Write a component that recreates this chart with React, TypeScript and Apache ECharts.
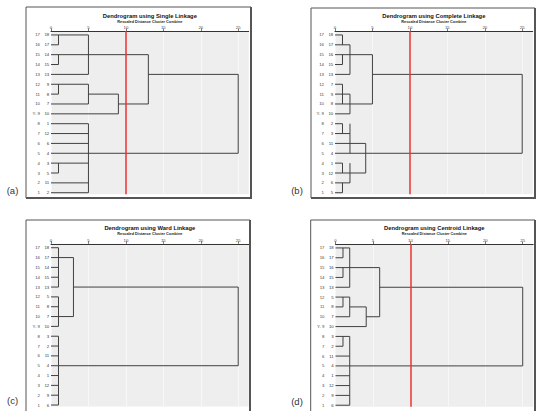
import React, { useEffect, useRef } from 'react';
import * as echarts from 'echarts';

// ---------- data ----------
const rowNumbers = ['17', '16', '15', '14', '13', '12', '11', '10', 'Y- 9', '8', '7', '6', '5', '4', '3', '2', '1'];
const leavesSingle = ['18', '17', '14', '15', '13', '9', '8', '7', '10', '1', '12', '6', '4', '3', '5', '11', '2'];
const leavesComplete = ['18', '17', '16', '15', '13', '7', '9', '8', '10', '2', '3', '11', '4', '1', '12', '6', '5'];
const leavesWard = ['18', '17', '14', '15', '13', '5', '8', '7', '10', '3', '2', '11', '4', '1', '12', '9', '6'];
const leavesCentroid = ['18', '17', '16', '15', '13', '5', '8', '7', '10', '3', '2', '11', '4', '1', '12', '9', '6'];
const xTicks = [0, 5, 10, 15, 20, 25];
const cutDistance = 10;
const titles = [
  'Dendrogram using Single Linkage',
  'Dendrogram using Complete Linkage',
  'Dendrogram using Ward Linkage',
  'Dendrogram using Centroid Linkage',
];
const subtitle = 'Rescaled Distance Cluster Combine';
const panelLetters = ['(a)', '(b)', '(c)', '(d)'];

// segments: [distanceFrom, row, distanceTo, row]
const segSingle = [
  [0, 1, 5, 1], [0, 2, 1, 2], [1, 1, 1, 2], [0, 3, 13, 3], [0, 4, 1, 4], [1, 3, 1, 4],
  [0, 5, 5, 5], [5, 1, 5, 5], [13, 5, 25, 5],
  [0, 6, 5, 6], [0, 7, 1, 7], [1, 6, 1, 7], [0, 8, 5, 8], [5, 6, 5, 8], [5, 7, 9, 7],
  [0, 9, 9, 9], [9, 7, 9, 9], [9, 8, 13, 8], [13, 3, 13, 8],
  [0, 10, 5, 10], [0, 11, 5, 11], [0, 12, 5, 12], [0, 13, 25, 13], [0, 14, 5, 14],
  [0, 15, 1, 15], [1, 14, 1, 15], [0, 16, 5, 16], [0, 17, 5, 17], [5, 10, 5, 17],
  [25, 5, 25, 13],
];
const segComplete = [
  [0, 1, 1, 1], [0, 2, 2, 2], [1, 1, 1, 2], [0, 3, 5, 3], [0, 4, 1, 4], [1, 3, 1, 4],
  [0, 5, 2, 5], [2, 2, 2, 5], [5, 5, 25, 5],
  [0, 6, 1, 6], [0, 7, 2, 7], [0, 8, 5, 8], [1, 6, 1, 8], [0, 9, 2, 9], [2, 7, 2, 9],
  [5, 3, 5, 8],
  [0, 10, 1, 10], [0, 11, 2, 11], [1, 10, 1, 11], [0, 12, 4.1, 12], [0, 13, 25, 13], [2, 10, 2, 13],
  [0, 14, 1, 14], [0, 15, 4.1, 15], [1, 14, 1, 15], [0, 16, 2, 16], [0, 17, 1, 17], [1, 16, 1, 17],
  [2, 14, 2, 16], [4.1, 12, 4.1, 15],
  [25, 5, 25, 13],
];
const segWard = [
  [0, 1, 1, 1], [0, 2, 3, 2], [0, 3, 1, 3], [0, 4, 1, 4], [0, 5, 1, 5], [1, 1, 1, 5],
  [3, 5, 25, 5],
  [0, 6, 1, 6], [0, 7, 1, 7], [0, 8, 3, 8], [0, 9, 1, 9], [1, 6, 1, 9], [3, 2, 3, 8],
  [0, 10, 1, 10], [0, 11, 1, 11], [0, 12, 1, 12], [0, 13, 25, 13], [0, 14, 1, 14],
  [0, 15, 1, 15], [0, 16, 1, 16], [0, 17, 1, 17], [1, 10, 1, 17],
  [25, 5, 25, 13],
];
const segCentroid = [
  [0, 1, 1.9, 1], [0, 2, 1, 2], [1, 1, 1, 2], [0, 3, 5.9, 3], [0, 4, 1, 4], [1, 3, 1, 4],
  [0, 5, 1.9, 5], [1.9, 1, 1.9, 5], [5.9, 5, 25, 5],
  [0, 6, 1.9, 6], [0, 7, 1, 7], [1, 6, 1, 7], [0, 8, 1.9, 8], [1.9, 6, 1.9, 8],
  [1.9, 7, 4.1, 7], [0, 9, 4.1, 9], [4.1, 7, 4.1, 9], [4.1, 8, 5.9, 8], [5.9, 3, 5.9, 8],
  [0, 10, 1.9, 10], [0, 11, 1, 11], [1, 10, 1, 11], [0, 12, 1.9, 12], [0, 13, 25, 13],
  [0, 14, 1.9, 14], [0, 15, 1.9, 15], [0, 16, 1.9, 16], [0, 17, 1.9, 17], [1.9, 10, 1.9, 17],
  [25, 5, 25, 13],
];

// ---------- layout ----------
const FONT = 'Liberation Sans';
const X_MAX = 26.4;
const Y_MIN = 0.6;
const Y_MAX = 17.16;
const panels = [
  { left: 51, top: 31, width: 197.7, height: 163.3, frame: [26, 7, 225, 191], letter: [12.5, 190], titleY: 15.5, cut: true },
  { left: 335, top: 31, width: 197.7, height: 163.3, frame: [311, 8, 224, 190], letter: [297, 190], titleY: 15.5, cut: true },
  { left: 51, top: 243.8, width: 197.7, height: 162.8, frame: [26, 220, 224, 192], letter: [12.5, 400], titleY: 228.2, cut: false },
  { left: 335.5, top: 244, width: 197.7, height: 162.8, frame: [310.7, 220, 224.3, 192], letter: [297, 401], titleY: 228.2, cut: true },
];

export default function App() {
  const ref = useRef<HTMLDivElement>(null);
  useEffect(() => {
    const chart = echarts.init(ref.current!, null, { renderer: 'svg' });
    const segs = [segSingle, segComplete, segWard, segCentroid];
    const leaves = [leavesSingle, leavesComplete, leavesWard, leavesCentroid];
    const rowIdx = rowNumbers.map((_, k) => k + 1);
    const grids: any[] = [];
    const xAxes: any[] = [];
    const yAxes: any[] = [];
    const series: any[] = [];
    const graphics: any[] = [];

    panels.forEach((p, i) => {
      grids.push({
        left: p.left, top: p.top, width: p.width, height: p.height,
        show: true, backgroundColor: '#eeeeee', borderWidth: 0,
      });
      xAxes.push({
        type: 'value', gridIndex: i, position: 'top', min: 0, max: X_MAX, interval: 5,
        axisLine: { show: true, lineStyle: { color: '#333', width: 1 } },
        axisTick: { show: true, length: 2.5, customValues: xTicks, lineStyle: { color: '#555', width: 0.8 } },
        axisLabel: { customValues: xTicks, fontSize: 4.3, margin: 1.2, color: '#444', fontFamily: FONT },
        splitLine: { show: true, lineStyle: { color: '#f7f7f7', width: 1 } },
      });
      const lv = leaves[i];
      yAxes.push({
        type: 'value', gridIndex: i, inverse: true, min: Y_MIN, max: Y_MAX, position: 'left',
        axisLine: { show: false }, axisTick: { show: false }, splitLine: { show: false },
        axisLabel: {
          customValues: rowIdx, fontSize: 4.3, margin: 1.8, color: '#333', fontFamily: FONT,
          formatter: (v: number) => lv[Math.round(v) - 1] ?? '',
        },
      });
      yAxes.push({
        type: 'value', gridIndex: i, inverse: true, min: Y_MIN, max: Y_MAX, position: 'left', offset: 9,
        axisLine: { show: false }, axisTick: { show: false }, splitLine: { show: false },
        axisLabel: {
          customValues: rowIdx, fontSize: 4.3, margin: 2, color: '#444', fontFamily: FONT,
          formatter: (v: number) => rowNumbers[Math.round(v) - 1] ?? '',
        },
      });
      series.push({
        type: 'custom', xAxisIndex: i, yAxisIndex: 2 * i, data: segs[i], silent: true,
        encode: { x: [0, 2], y: [1, 3] },
        renderItem: (_params: any, api: any) => {
          const a = api.coord([api.value(0), api.value(1)]);
          const b = api.coord([api.value(2), api.value(3)]);
          return {
            type: 'line',
            shape: { x1: a[0], y1: a[1], x2: b[0], y2: b[1] },
            style: { stroke: '#404040', lineWidth: 1 },
          };
        },
        markLine: p.cut ? {
          silent: true, symbol: ['none', 'none'], label: { show: false },
          lineStyle: { color: '#e8322e', width: 1.5, type: 'solid' },
          data: [{ xAxis: cutDistance }],
        } : undefined,
      });
      const cx = p.left + p.width / 2;
      graphics.push({
        type: 'text', x: cx, y: p.titleY, silent: true,
        style: { text: titles[i], fill: '#111', font: `bold 5.8px ${FONT}`, align: 'center', verticalAlign: 'middle', textAlign: 'center', textVerticalAlign: 'middle' },
      });
      graphics.push({
        type: 'text', x: cx, y: p.titleY + 6.2, silent: true,
        style: { text: subtitle, fill: '#222', font: `bold 3.8px ${FONT}`, align: 'center', verticalAlign: 'middle', textAlign: 'center', textVerticalAlign: 'middle' },
      });
      const [fx, fy, fw, fh] = p.frame;
      graphics.push({
        type: 'rect', silent: true, shape: { x: fx, y: fy, width: fw, height: fh },
        style: { fill: 'none', stroke: '#555', lineWidth: 1 },
      });
      graphics.push({
        type: 'polyline', silent: true,
        shape: { points: [[fx + fw, fy], [fx + fw, fy + fh], [fx, fy + fh]] },
        style: { fill: 'none', stroke: '#555', lineWidth: 2 },
      });
      graphics.push({
        type: 'text', x: p.letter[0], y: p.letter[1], silent: true,
        style: { text: panelLetters[i], fill: '#333', font: `9.5px ${FONT}`, align: 'center', verticalAlign: 'middle', textAlign: 'center', textVerticalAlign: 'middle' },
      });
    });

    chart.setOption({
      animation: false,
      backgroundColor: '#ffffff',
      textStyle: { fontFamily: FONT },
      grid: grids,
      xAxis: xAxes,
      yAxis: yAxes,
      series,
      graphic: graphics,
    });
    return () => chart.dispose();
  }, []);
  return (
    <div
      ref={ref}
      style={{ position: 'absolute', left: 0, top: 0, width: 545, height: 411 }}
    />
  );
}
